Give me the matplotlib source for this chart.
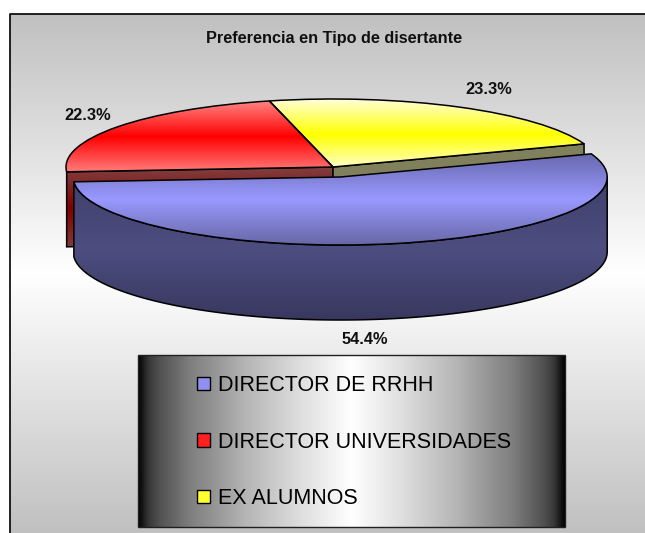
import numpy as np
import matplotlib
matplotlib.use('Agg')
import matplotlib.pyplot as plt
from matplotlib.patches import Patch, Polygon, Rectangle
from matplotlib.colors import LinearSegmentedColormap

labels = ['DIRECTOR DE RRHH', 'DIRECTOR UNIVERSIDADES', 'EX ALUMNOS']
values = [54.4, 22.3, 23.3]
pct_labels = ['54.4%', '22.3%', '23.3%']
swatch_colors = ['#9090f0', '#ff2020', '#ffff30']

W, H = 645, 533
CX, CY, RX, RY = 333, 167, 267, 68
DEPTH = 75 / RY

plt.rcParams['font.family'] = ['Liberation Sans', 'DejaVu Sans']
fig = plt.figure(figsize=(W / 100, H / 100), dpi=100)
ax = fig.add_axes([0, 0, 1, 1])


def px(x, y):
    # pixel position of the picture -> pie units
    return (x - CX) / RX, (CY - y) / RY


def gradient(x0, y0, x1, y1, colors, clip=None, vertical=True, z=1):
    cmap = LinearSegmentedColormap.from_list('g', colors, N=1024)
    g = np.linspace(0, 1, 1024)
    g = g[:, None] if vertical else g[None, :]
    (l, t), (r, b) = px(x0, y0), px(x1, y1)
    im = ax.imshow(g, cmap=cmap, extent=(l, r, b, t), aspect='auto', zorder=z, origin='upper',
                   interpolation='bilinear', vmin=0, vmax=1)
    if clip is not None:
        im.set_clip_path(clip)
    return im


wedges, _ = ax.pie(values, startangle=19.9, counterclock=False, explode=[0.13, 0, 0],
                   colors=['none'] * 3, wedgeprops={'edgecolor': 'black', 'linewidth': 1.1})
ax.set_aspect('auto')
blue, red, yellow = wedges
blue.set_center((blue.center[0], blue.center[1] - 0.02))


def arc(center, a0, a1, drop=0.0):
    t = np.radians(np.linspace(a0, a1, 120))
    return np.column_stack([center[0] + np.cos(t), center[1] + np.sin(t) - drop])


# background and frame
gradient(9.5, 14, 645, 533, ['#c0c0c0', '#ffffff', '#c0c0c0'], z=0)
ax.plot(*zip(px(9.5, 533), px(9.5, 14), px(645, 14)), color='black', lw=1.2, zorder=0.5)

# red and yellow walls, seen behind the exploded slice
c = np.array(red.center)
end_red = arc(c, red.theta2, red.theta2)[0]
wall_r = Polygon([c, end_red, end_red - [0, DEPTH], c - [0, DEPTH]], closed=True,
                 facecolor='none', edgecolor='black', lw=1.1, zorder=3)
ax.add_patch(wall_r)
gradient(60, 167, 340, 250, ['#804040', '#800000', '#804040'], clip=wall_r, z=2)

end_yel = arc(c, yellow.theta1, yellow.theta1)[0]
wall_y = Polygon([c, end_yel, end_yel - [0, DEPTH], c - [0, DEPTH]], closed=True, facecolor='#80805c',
                 edgecolor='black', lw=1.1, zorder=3)
ax.add_patch(wall_y)

# top faces of the back slices
for w, cols, y0, y1 in [(red, ['#ff8888', '#ff0000', '#ff8080'], 100, 173),
                        (yellow, ['#ffffd8', '#ffff00', '#ffffd8'], 99, 170)]:
    gradient(60, y0, 600, y1, cols, clip=w, z=3.5)
    w.set_zorder(4)

# exploded slice: side then top
b = np.array(blue.center)
upper = arc(b, blue.theta1, 0)
lower = arc(b, blue.theta1, 0, DEPTH)
side = Polygon(np.vstack([upper, lower[::-1]]), closed=True, facecolor='none', edgecolor='black', lw=1.1, zorder=6)
ax.add_patch(side)
gradient(60, 175, 620, 325, ['#40406c', '#4d4d80', '#36365c'], clip=side, z=5)
face = Polygon(np.vstack([[b], arc(b, blue.theta1, blue.theta2)]), closed=True, facecolor='#9999ff', zorder=6.5)
ax.add_patch(face)
gradient(60, 150, 620, 248, ['#6464a8', '#9999ff', '#6464a0'], clip=face, z=7)
blue.set_zorder(8)

# percentage labels and title
pct_pos = [(365, 339), (88, 115), (489, 89)]
for txt, (x, y) in zip(pct_labels, pct_pos):
    ax.text(*px(x, y), txt, ha='center', va='center', fontsize=11.8, fontweight='bold', color='#101010', zorder=9)
ax.text(*px(334, 38.5), 'Preferencia en Tipo de disertante', ha='center', va='center', fontsize=11.7,
        fontweight='bold', color='#101010', zorder=9)

# legend box
legend_stops = [(0, '#000000'), (0.025, '#383838'), (0.05, '#515151'), (0.12, '#7d7d7d'), (0.25, '#b4b4b4'),
                (0.38, '#dedede'), (0.5, '#ffffff'), (0.62, '#dedede'), (0.75, '#b4b4b4'), (0.88, '#7d7d7d'),
                (0.95, '#515151'), (0.975, '#383838'), (1, '#000000')]
gradient(138, 355, 565, 527, legend_stops, vertical=False, z=9)
l, t = px(138, 355)
r, bt = px(565, 527)
ax.add_patch(Rectangle((l, bt), r - l, t - bt, facecolor='none', edgecolor='#202020', lw=1, zorder=9.5))
handles = [Patch(facecolor=c_, edgecolor='black', lw=1) for c_ in swatch_colors]
leg = ax.legend(handles, labels, loc='upper left', bbox_to_anchor=(197 / W, 1 - 375 / H), frameon=False,
                fontsize=15.5, handlelength=0.6, handleheight=0.6, handletextpad=0.37, labelspacing=1.65,
                borderpad=0, borderaxespad=0)
leg.set_zorder(10)

ax.set_xlim(px(0, 0)[0], px(W, 0)[0])
ax.set_ylim(px(0, H)[1], px(0, 0)[1])
ax.axis('off')
fig.savefig('out.png', dpi=100, facecolor='white')
